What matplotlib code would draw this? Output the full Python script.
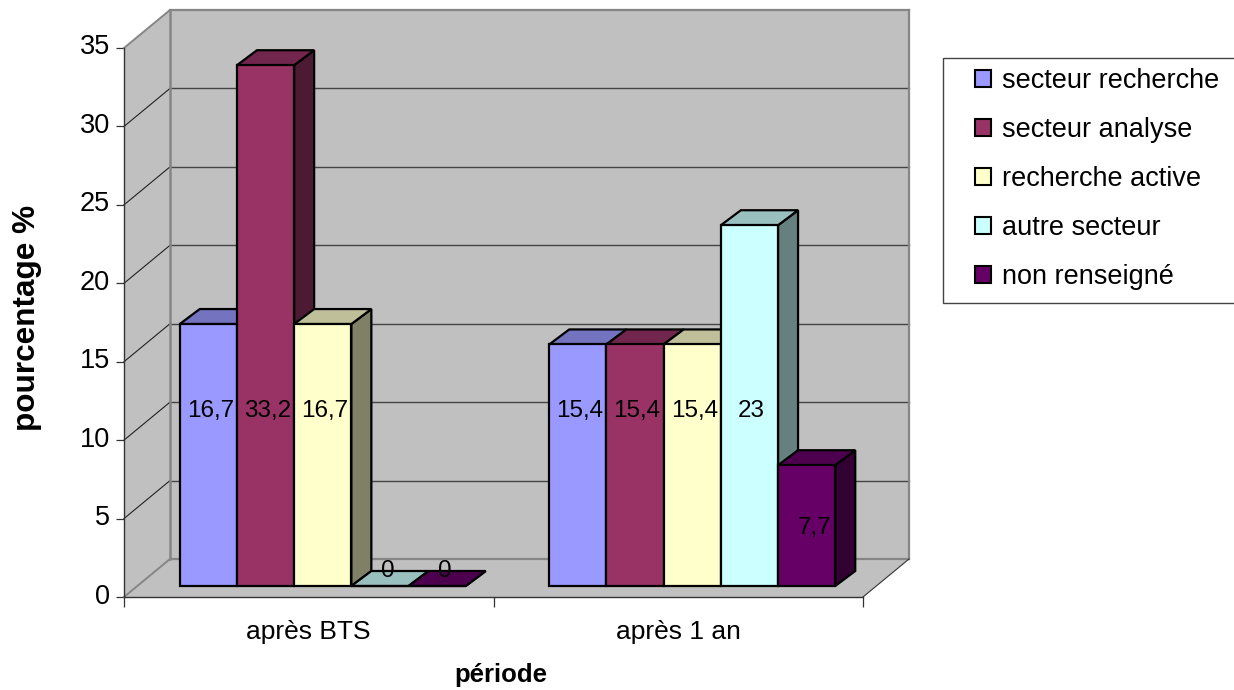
import matplotlib
matplotlib.use("Agg")
import matplotlib.pyplot as plt
from matplotlib.patches import Polygon, Patch, Rectangle
from matplotlib.transforms import IdentityTransform, Affine2D
from matplotlib.colors import to_rgb
import numpy as np

plt.rcParams['font.family'] = ['Liberation Sans', 'DejaVu Sans']

periods = ['après BTS', 'après 1 an']
series_names = ['secteur recherche', 'secteur analyse', 'recherche active',
                'autre secteur', 'non renseigné']
secteur_recherche = [16.7, 15.4]
secteur_analyse = [33.2, 15.4]
recherche_active = [16.7, 15.4]
autre_secteur = [0, 23]
non_renseigne = [0, 7.7]
series = [secteur_recherche, secteur_analyse, recherche_active, autre_secteur, non_renseigne]
value_labels = [['16,7', '15,4'], ['33,2', '15,4'], ['16,7', '15,4'], ['0', '23'], ['0', '7,7']]
colors = ['#9999FF', '#993366', '#FFFFCC', '#CCFFFF', '#660066']
yticks = [0, 5, 10, 15, 20, 25, 30, 35]

W, H = 1234, 690
fig = plt.figure(figsize=(W / 100, H / 100), dpi=100)
L, R, T, B = 124, 863, 48, 597
ax = fig.add_axes([L / W, (H - B) / H, (R - L) / W, (B - T) / H])
ax.set_xlim(0, 2)
ax.set_ylim(0, 35)
ax.patch.set_visible(False)

DEPTH = (46, 38)      # pixel offset of the back wall
BAR_OFF = (14, 11)    # pixel offset of the bars from the front plane
BAR_DEPTH = (20, 15)  # pixel depth of each bar
px_per_x = (R - L) / 2
bar_w = 57.2 / px_per_x


def pt(x, v, dx=0, dy=0):
    return ax.transData.transform((x, v)) + np.array([dx, dy])


def poly(pts, fc, ec, lw, z):
    ax.add_patch(Polygon(np.array(pts), closed=True, facecolor=fc, edgecolor=ec, linewidth=lw,
                         transform=IdentityTransform(), zorder=z, clip_on=False,
                         joinstyle='miter'))


def seg(a, b, c, lw, z):
    ax.add_line(plt.Line2D([a[0], b[0]], [a[1], b[1]], color=c, lw=lw,
                           transform=IdentityTransform(), zorder=z, clip_on=False))


dx, dy = DEPTH
wall = '#C0C0C0'
edge = '#868686'
poly([pt(0, 0, dx, dy), pt(2, 0, dx, dy), pt(2, 35, dx, dy), pt(0, 35, dx, dy)], wall, 'none', 0, 1)
poly([pt(0, 0), pt(0, 0, dx, dy), pt(0, 35, dx, dy), pt(0, 35)], wall, 'none', 0, 1)
poly([pt(0, 0), pt(2, 0), pt(2, 0, dx, dy), pt(0, 0, dx, dy)], wall, 'none', 0, 1)

for v in yticks[1:-1]:
    seg(pt(0, v, dx, dy), pt(2, v, dx, dy), '#444444', 1.0, 2)
    seg(pt(0, v), pt(0, v, dx, dy), '#222222', 0.8, 2)
seg(pt(0, 35, dx, dy), pt(2, 35, dx, dy), edge, 1.6, 2)
seg(pt(2, 0, dx, dy), pt(2, 35, dx, dy), edge, 1.6, 2)
seg(pt(0, 0, dx, dy), pt(0, 35, dx, dy), edge, 1.8, 2)
seg(pt(0, 0, dx, dy), pt(2, 0, dx, dy), edge, 1.6, 2)
seg(pt(0, 35), pt(0, 35, dx, dy), edge, 1.4, 2)
seg(pt(0, 0), pt(0, 0, dx, dy), edge, 1.4, 2)
seg(pt(2, 0), pt(2, 0, dx, dy), '#333333', 0.8, 2)

# bars
n = len(series)
ox, oy = BAR_OFF
bx, by = BAR_DEPTH
z = 3
LABEL_LEVEL = 11.3
for g in range(len(periods)):
    for i, s in enumerate(series):
        v = s[g]
        left = g + 0.5 + (i - n / 2) * bar_w
        right = left + bar_w
        c = np.array(to_rgb(colors[i]))
        a, b = pt(left, 0, ox, oy), pt(right, 0, ox, oy)
        a2, b2 = pt(left, v, ox, oy), pt(right, v, ox, oy)
        lw = 1.6
        poly([b, b + (bx, by), b2 + (bx, by), b2], c * 0.5, 'black', lw, z)
        poly([a2, b2, b2 + (bx, by), a2 + (bx, by)], c * 0.75, 'black', lw, z + 0.1)
        poly([a, b, b2, a2], c, 'black', lw, z + 0.2)
        z += 1
for g in range(len(periods)):
    for i, s in enumerate(series):
        v = s[g]
        left = g + 0.5 + (i - n / 2) * bar_w
        cx = left + bar_w / 2
        level = LABEL_LEVEL if v > LABEL_LEVEL else v / 2
        p = pt(cx, level, ox + (2 if v > LABEL_LEVEL else 8), oy + (15 if v == 0 else -2))
        ax.text(p[0], p[1], value_labels[i][g], transform=IdentityTransform(), ha='center',
                va='center', fontsize=17.5, color='black', zorder=50, clip_on=False)

# axes
for sp in ['top', 'right']:
    ax.spines[sp].set_visible(False)
for sp in ['left', 'bottom']:
    ax.spines[sp].set_color('#333333')
    ax.spines[sp].set_linewidth(1.0)
    ax.spines[sp].set_zorder(40)
ax.set_yticks(yticks)
ax.tick_params(axis='y', length=6, width=0.9, color='#333333', labelsize=19.5, pad=4)
for lab in ax.get_yticklabels():
    lab.set_transform(lab.get_transform() + Affine2D().translate(0, 3.5))
ax.set_xticks([0, 1, 2])
ax.set_xticklabels([])
ax.set_xticks([0.5, 1.5], minor=True)
ax.set_xticklabels(periods, minor=True)
ax.tick_params(axis='x', which='major', length=7, width=0.9, color='#333333')
ax.tick_params(axis='x', which='minor', length=0, labelsize=19, pad=16.5)
ax.set_xlabel('période', fontsize=18.5, fontweight='bold', va='center')
ax.xaxis.set_label_coords((501 - L) / (R - L), (B - 675) / (B - T))
ax.set_ylabel('pourcentage %', fontsize=22.7, fontweight='bold', va='center')
ax.yaxis.set_label_coords((27 - L) / (R - L), (B - 318) / (B - T))

# legend
fig.add_artist(Rectangle((943 / W, (H - 303) / H), 320 / W, 245 / H, transform=fig.transFigure,
                         facecolor='white', edgecolor='#444444', linewidth=1.0))
handles = [Patch(facecolor=c, edgecolor='black', linewidth=1.5) for c in colors]
leg = fig.legend(handles, series_names, loc='upper left',
                 bbox_to_anchor=(967 / W, (H - 60) / H), frameon=False, fontsize=19.5,
                 handlelength=0.6, handleheight=0.6, handletextpad=0.38, labelspacing=0.85,
                 borderpad=0.3, borderaxespad=0)
leg.set_zorder(60)

fig.savefig('out.png', dpi=100, facecolor='white')
